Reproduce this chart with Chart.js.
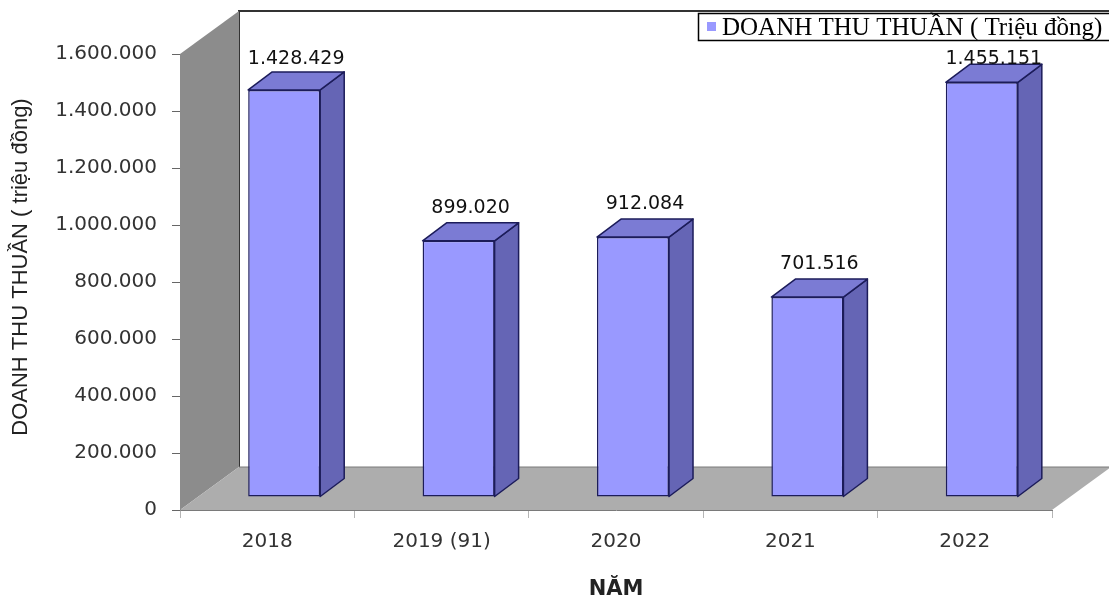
<!DOCTYPE html>
<html>
<head>
<meta charset="utf-8">
<script src="https://cdn.jsdelivr.net/npm/chart.js@4.4.1/dist/chart.umd.min.js"></script>
<style>
  html, body { margin: 0; padding: 0; background: #fff; }
  #wrap { width: 1109px; height: 605px; }
</style>
</head>
<body>
<div id="wrap"><canvas id="chart"></canvas></div>
<script>
// data
const years = ['2018', '2019 (91)', '2020', '2021', '2022'];
const revenue = [1428429, 899020, 912084, 701516, 1455151];
const seriesName = 'DOANH THU THUẦN ( Triệu đồng)';
const yTitle = 'DOANH THU THUẦN ( triệu đồng)';
const xTitle = 'NĂM';
const yMax = 1600000;
const yStep = 200000;

// 3d look: depth of the box, and where the bars sit inside it
const WALL_DX = 59, WALL_DY = -43;
const BAR_DX = 17, BAR_DY = -13;     // front face of bars
const SIDE_DX = 24, SIDE_DY = -18;   // bar thickness

const fmt = v => String(v).replace(/\B(?=(\d{3})+(?!\d))/g, '.');

const poly = (ctx, pts, fill, stroke) => {
    ctx.beginPath();
    ctx.moveTo(pts[0][0], pts[0][1]);
    for (let i = 1; i < pts.length; i++) ctx.lineTo(pts[i][0], pts[i][1]);
    ctx.closePath();
    if (fill) { ctx.fillStyle = fill; ctx.fill(); }
    if (stroke) { ctx.strokeStyle = stroke; ctx.stroke(); }
};

const box3d = {
    id: 'box3d',
    beforeDraw(chart) {
        const { ctx, chartArea: a } = chart;
        ctx.save();
        // back wall
        ctx.fillStyle = '#fff';
        ctx.fillRect(a.left + WALL_DX, a.top + WALL_DY, a.right - a.left, a.bottom - a.top);
        ctx.lineWidth = 2;
        ctx.strokeStyle = '#333';
        ctx.beginPath();
        ctx.moveTo(a.left + WALL_DX, a.bottom + WALL_DY);
        ctx.lineTo(a.left + WALL_DX, a.top + WALL_DY);
        ctx.lineTo(a.right + WALL_DX, a.top + WALL_DY);
        ctx.stroke();
        // side wall
        ctx.lineWidth = 1;
        poly(ctx, [[a.left, a.top], [a.left + WALL_DX, a.top + WALL_DY],
                   [a.left + WALL_DX, a.bottom + WALL_DY], [a.left, a.bottom]], '#8c8c8c');
        // floor
        poly(ctx, [[a.left, a.bottom], [a.left + WALL_DX, a.bottom + WALL_DY],
                   [a.right + WALL_DX, a.bottom + WALL_DY], [a.right, a.bottom]], '#adadad');
        ctx.strokeStyle = '#7a7a7a';
        ctx.beginPath();
        ctx.moveTo(a.left + WALL_DX, a.bottom + WALL_DY);
        ctx.lineTo(a.right + WALL_DX, a.bottom + WALL_DY);
        ctx.stroke();
        ctx.restore();
    },
    beforeDatasetsDraw(chart) {
        chart.ctx.save();
        chart.ctx.translate(BAR_DX, BAR_DY);
    },
    afterDatasetsDraw(chart) {
        const ctx = chart.ctx;
        const meta = chart.getDatasetMeta(0);
        ctx.lineWidth = 1.5;
        ctx.lineJoin = 'round';
        meta.data.forEach(bar => {
            const { x, y, base, width } = bar.getProps(['x', 'y', 'base', 'width'], true);
            const l = x - width / 2, r = x + width / 2;
            poly(ctx, [[r, y], [r + SIDE_DX, y + SIDE_DY], [r + SIDE_DX, base + SIDE_DY], [r, base]], '#6565b5', '#1c1c5a');
            poly(ctx, [[l, y], [l + SIDE_DX, y + SIDE_DY], [r + SIDE_DX, y + SIDE_DY], [r, y]], '#7b7bd4', '#1c1c5a');
        });
        ctx.restore();
    },
    afterDraw(chart) {
        const { ctx, chartArea: a } = chart;
        const meta = chart.getDatasetMeta(0);
        ctx.save();
        // value labels
        ctx.font = '19px "DejaVu Sans"';
        ctx.fillStyle = '#111';
        ctx.textAlign = 'center';
        ctx.textBaseline = 'middle';
        meta.data.forEach((bar, i) => {
            const ly = Math.max(bar.y + BAR_DY - 33, a.top + 5);
            ctx.fillText(fmt(revenue[i]), bar.x + BAR_DX + SIDE_DX / 2, ly);
        });
        // y axis title
        ctx.save();
        ctx.translate(21, 267);
        ctx.rotate(-Math.PI / 2);
        ctx.font = '22px "Liberation Sans"';
        ctx.fillStyle = '#222';
        ctx.fillText(yTitle, 0, 0);
        ctx.restore();
        // legend
        const ds = chart.data.datasets[0];
        ctx.fillStyle = '#fff';
        ctx.fillRect(698, 13, 420, 27);
        ctx.strokeStyle = '#000';
        ctx.lineWidth = 1.5;
        ctx.strokeRect(698.5, 13.5, 420, 27);
        ctx.fillStyle = ds.backgroundColor;
        ctx.fillRect(707, 22, 9, 9);
        ctx.fillStyle = '#000';
        ctx.textAlign = 'left';
        ctx.font = '25px "Liberation Serif"';
        ctx.fillText(ds.label, 722, 28);
        ctx.restore();
    }
};

new Chart(document.getElementById('chart'), {
    type: 'bar',
    data: {
        labels: years,
        datasets: [{
            label: seriesName,
            data: revenue,
            backgroundColor: '#9999ff',
            borderColor: '#1c1c5a',
            borderWidth: 1.5,
            borderSkipped: false,
            categoryPercentage: 1,
            barPercentage: 0.413,
            clip: false
        }]
    },
    options: {
        responsive: true,
        maintainAspectRatio: false,
        animation: false,
        layout: { padding: { top: 54, right: 57, left: 0, bottom: 0 } },
        plugins: {
            legend: { display: false },
            tooltip: { enabled: false }
        },
        scales: {
            x: {
                afterFit: s => { s.height = 95; },
                grid: { offset: true, drawOnChartArea: false, tickLength: 8, color: '#b5b5b5' },
                border: { display: true, color: '#7a7a7a' },
                ticks: { font: { family: 'DejaVu Sans', size: 20 }, color: '#333', padding: 12 },
                title: {
                    display: true, text: xTitle, color: '#222',
                    font: { family: 'DejaVu Sans', size: 21, weight: 'bold' },
                    padding: { top: 0, bottom: 3 }
                }
            },
            y: {
                min: 0,
                max: yMax,
                afterFit: s => { s.width = 180; },
                grid: { drawOnChartArea: false, tickLength: 8, color: '#666' },
                border: { display: true, color: '#8c8c8c' },
                ticks: {
                    stepSize: yStep,
                    font: { family: 'DejaVu Sans', size: 20 },
                    color: '#333',
                    padding: 15,
                    callback: v => fmt(v)
                }
            }
        }
    },
    plugins: [box3d]
});
</script>
</body>
</html>
